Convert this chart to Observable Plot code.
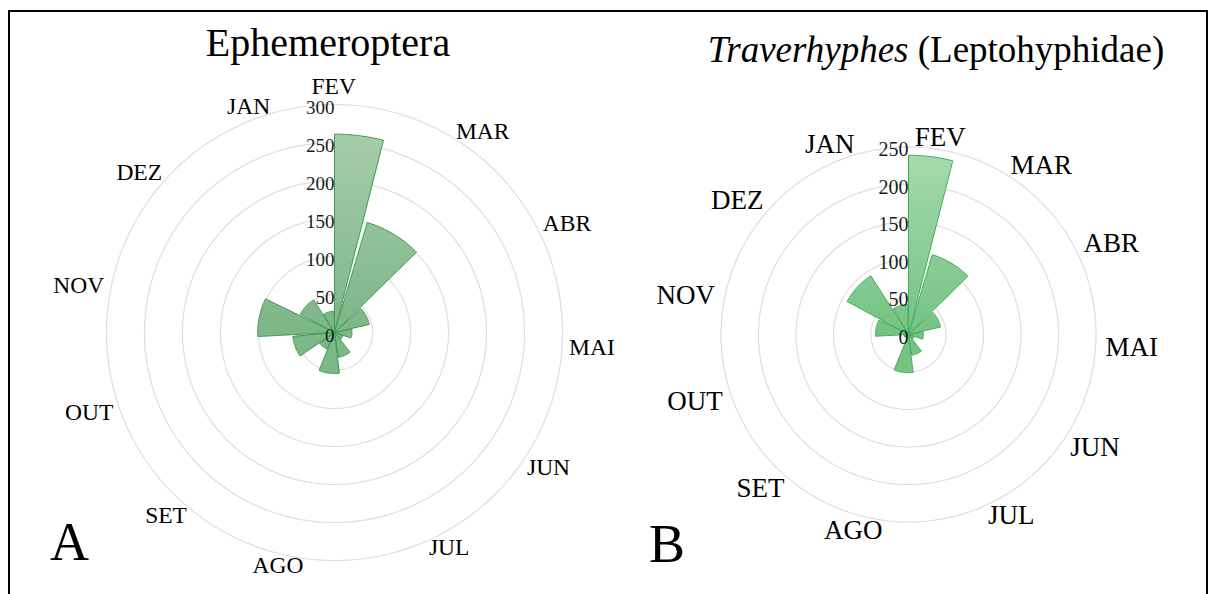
<!DOCTYPE html>
<html><head><meta charset="utf-8">
<script src="https://cdn.jsdelivr.net/npm/d3@7"></script>
<script src="https://cdn.jsdelivr.net/npm/@observablehq/plot@0.6"></script>
<style>
body{margin:0;background:#fff;width:1217px;height:594px;overflow:hidden;position:relative;font-family:"Liberation Serif","DejaVu Serif",serif;}
#frame{position:absolute;left:8px;top:10px;width:1196px;height:600px;border:2px solid #000;pointer-events:none;}
.panel{position:absolute;top:0;}
.title{position:absolute;white-space:nowrap;line-height:1;color:#000;transform:translateX(-50%);}
.letter{position:absolute;line-height:1;font-size:54px;color:#000;}
</style></head><body>
<div id="pa" class="panel" style="left:0px"></div>
<div id="pb" class="panel" style="left:610px"></div>
<div class="title" style="left:328px;top:23px;font-size:40px;">Ephemeroptera</div>
<div class="title" style="left:936px;top:31px;font-size:37px;"><i>Traverhyphes</i> (Leptohyphidae)</div>
<div class="letter" style="left:50px;top:515px;">A</div>
<div class="letter" style="left:649px;top:517px;">B</div>
<div id="frame"></div>
<script>
// ---- data ----
const months = ["FEV","MAR","ABR","MAI","JUN","JUL","AGO","SET","OUT","NOV","DEZ","JAN"];
const ephemeroptera = [261,151,47,23,12,33,54,24,55,101,51,28];
const traverhyphes = [239,111,44,20,8,28,51,5,6,44,93,40];
const ticksA = [0,50,100,150,200,250,300];
const ticksB = [0,50,100,150,200,250];

// ---- angular layout (degrees, clockwise from north) ----
const STEP = 31.3, START = -14.7, WIDTH = 29;
function sector(i){ let a0 = START + STEP*i, a1 = a0 + WIDTH; if (a0 < 0) a0 = 0; return [a0, a1]; }
function labelAngle(i){ return START + STEP*i + WIDTH/2; }
const rad = a => a*Math.PI/180;
const toXY = (r, a) => ({x: r*Math.sin(rad(a)), y: r*Math.cos(rad(a))});

function panel(o){
  const {values, ticks, k, cx, cy, width, height} = o;
  const R = ticks[ticks.length-1];
  const vmax = d3.max(values);
  const wedges = [];
  values.forEach((v,i) => {
    const [a0,a1] = sector(i);
    wedges.push({m: months[i], x:0, y:0});
    const n = Math.max(2, Math.ceil(a1-a0));
    for (let j=0;j<=n;j++) wedges.push({m: months[i], ...toXY(v, a0+(a1-a0)*j/n)});
    wedges.push({m: months[i], x:0, y:0});
  });
  const rings = [];
  ticks.filter(t=>t>0).forEach(t => { for (let a=0;a<=360;a+=2) rings.push({t, ...toXY(t,a)}); });
  const rl = R + o.labelPad/k;
  const labs = months.map((m,i) => ({m, i, ...toXY(rl, labelAngle(i))}));
  const isFev = d => d.i === 0;
  const right = labs.filter(d => !isFev(d) && d.x > 0);
  const left = labs.filter(d => !isFev(d) && d.x < 0);
  const fev = labs.filter(isFev);
  const gradient = (index, scales) => {
    const ns = "http://www.w3.org/2000/svg";
    const defs = document.createElementNS(ns, "defs");
    const g = document.createElementNS(ns, "linearGradient");
    g.setAttribute("id", o.gid);
    g.setAttribute("gradientUnits", "userSpaceOnUse");
    g.setAttribute("x1", 0); g.setAttribute("x2", 0);
    g.setAttribute("y1", scales.y(vmax)); g.setAttribute("y2", scales.y(0));
    [[0, o.fillTop],[1, o.fillBottom]].forEach(([off,c]) => {
      const s = document.createElementNS(ns, "stop");
      s.setAttribute("offset", off); s.setAttribute("stop-color", c);
      g.appendChild(s);
    });
    defs.appendChild(g);
    return defs;
  };
  const font = '"Liberation Serif", "Times New Roman", serif';
  const marks = [
    gradient,
    Plot.line(rings, {x:"x", y:"y", z:"t", stroke:"#dedede", strokeWidth:1.2, curve:"linear"}),
    Plot.line(wedges, {x:"x", y:"y", z:"m", fill:`url(#${o.gid})`, stroke:o.stroke, strokeWidth:1, strokeLinejoin:"miter", curve:"linear"}),
    Plot.text(ticks, {x: d => 0, y: d => d, text: d => String(d), textAnchor:"end", dx:0, dy:3, fontSize:o.tickSize, fill:"#1a1a1a", fontFamily:font}),
    Plot.text(right, {x:"x", y:"y", text:"m", textAnchor:"start", fontSize:o.labelSize, fill:"#000", fontFamily:font}),
    Plot.text(left, {x:"x", y:"y", text:"m", textAnchor:"end", fontSize:o.labelSize, fill:"#000", fontFamily:font}),
    o.fevTop
      ? Plot.text(fev, {x:"x", y:"y", text:"m", textAnchor:"middle", lineAnchor:"bottom", dy:-4, fontSize:o.labelSize, fill:"#000", fontFamily:font})
      : Plot.text(fev, {x:"x", y:"y", text:"m", textAnchor:"start", dx:7, fontSize:o.labelSize, fill:"#000", fontFamily:font})
  ];
  return Plot.plot({
    width, height, margin:0,
    x: {domain: [-cx/k, (width-cx)/k], axis: null},
    y: {domain: [-(height-cy)/k, cy/k], axis: null},
    style: {background:"transparent", overflow:"visible"},
    marks
  });
}

document.getElementById("pa").appendChild(panel({
  values: ephemeroptera, ticks: ticksA, k: 0.76, cx: 334, cy: 332, width: 610, height: 594,
  fillTop: "#a4cda9", fillBottom: "#7db687", stroke: "#3f9c53", tickSize: 19, labelSize: 23.5, labelPad: 7, fevTop: true, gid: "gradA"
}));
document.getElementById("pb").appendChild(panel({
  values: traverhyphes, ticks: ticksB, k: 0.75, cx: 298, cy: 334, width: 607, height: 594,
  fillTop: "#a5d9ad", fillBottom: "#74c383", stroke: "#46ae5b", tickSize: 20, labelSize: 27, labelPad: 10, fevTop: false, gid: "gradB"
}));
</script>
</body></html>
